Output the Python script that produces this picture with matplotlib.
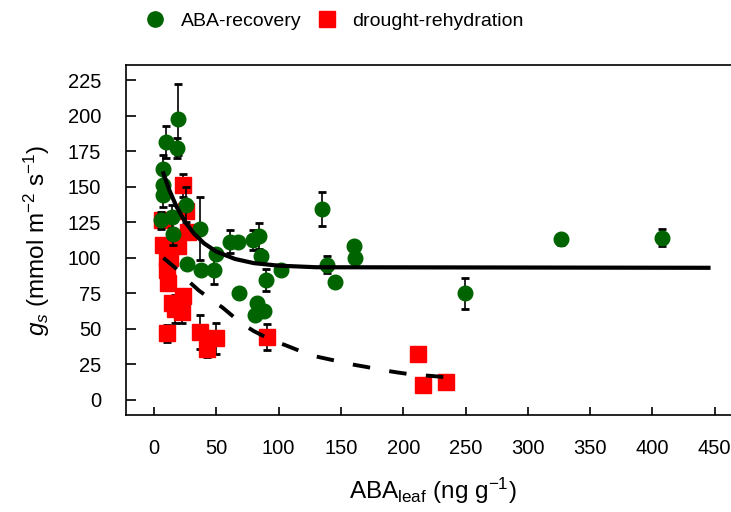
import matplotlib
matplotlib.use("Agg")
import matplotlib.pyplot as plt
from matplotlib.lines import Line2D

# ABA-recovery (green circles): ABA_leaf, gs, error
aba_rec_x = [19.5, 9.4, 18.5, 7.5, 7.5, 7.5, 26.0, 5.6, 14.5, 15.5, 36.5, 49.8,
             26.5, 37.5, 48.5, 68.5, 61.0, 67.7, 79.5, 84.0, 85.5, 89.5, 101.5,
             82.4, 88.0, 81.0, 135.0, 138.6, 145.3, 160.5, 161.3, 249.6, 327.0, 408.0]
aba_rec_gs = [197.5, 181.5, 177.5, 162.5, 151.5, 144.0, 137.5, 126.5, 129.0, 117.0,
              120.5, 103.0, 95.5, 91.5, 91.5, 75.5, 111.5, 111.5, 112.5, 115.5,
              101.5, 84.5, 91.5, 68.5, 62.5, 59.5, 134.5, 95.0, 83.0, 108.0, 100.0,
              75.0, 113.0, 114.0]
aba_rec_err = [25, 11, 7, 10, 8, 8, 12, 6, 8, 8, 22, 0, 0, 0, 10, 0, 8, 0, 7, 9,
               0, 8, 0, 0, 0, 0, 12, 6, 0, 0, 0, 11, 4, 6]

# drought-rehydration (red squares)
dr_x = [23.0, 26.0, 27.5, 6.2, 7.5, 10.0, 13.0, 19.0, 10.2, 11.5, 14.2, 17.0, 22.2,
        23.5, 10.2, 37.0, 42.3, 50.0, 91.0, 211.5, 216.0, 234.0]
dr_gs = [151.0, 133.0, 118.0, 126.5, 109.0, 100.0, 100.0, 108.0, 91.5, 82.0, 68.0,
         64.0, 62.0, 73.0, 47.0, 48.0, 36.0, 43.5, 44.5, 32.0, 10.5, 12.5]
dr_err = [8, 0, 0, 0, 0, 0, 0, 0, 0, 0, 0, 10, 8, 0, 6, 12, 6, 11, 9, 0, 0, 0]

# fitted curves, points
fit_rec_x = [7.5, 12, 18, 25, 32, 40, 50, 65, 80, 100, 130, 445]
fit_rec_y = [159.5, 148.2, 136.0, 125.2, 117.1, 110.3, 104.4, 99.2, 96.3, 94.5, 93.4, 93.0]
fit_dr_x = [7.5, 17, 26.5, 36, 47, 55, 70, 80, 94.5, 105, 118.5, 130.6, 143.7,
            155.7, 170.7, 181.4, 196.6, 208, 223, 234]
fit_dr_y = [100, 93, 84.5, 77, 70, 65, 54, 48.5, 42, 38.7, 34, 30.5, 28, 25.5,
            23.2, 21.3, 19.2, 17.8, 16.9, 16.0]

x_ticks = list(range(0, 451, 50))
y_ticks = list(range(0, 226, 25))

plt.rcParams["font.family"] = ["Liberation Sans", "DejaVu Sans"]
plt.rcParams["mathtext.fontset"] = "custom"
plt.rcParams["mathtext.rm"] = "Liberation Sans"
plt.rcParams["mathtext.it"] = "Liberation Sans:italic"

green = "#006400"
red = "#ff0000"

fig = plt.figure(figsize=(7.31, 5.12), dpi=100)
ax = fig.add_axes([0.1724, 0.1895, 0.8394, 0.6836])

ax.errorbar(dr_x, dr_gs, yerr=dr_err, fmt="none", ecolor="black", elinewidth=1.2,
            capsize=3, capthick=2, zorder=2)
ax.plot(dr_x, dr_gs, "s", color=red, ms=11, mec=red, zorder=3)
ax.errorbar(aba_rec_x, aba_rec_gs, yerr=aba_rec_err, fmt="none", ecolor="black",
            elinewidth=1.2, capsize=3, capthick=2, zorder=4)
ax.plot(aba_rec_x, aba_rec_gs, "o", color=green, ms=10.5, mec=green, zorder=5)

ax.plot(fit_rec_x, fit_rec_y, "-", color="black", lw=3, zorder=6)
ax.plot(fit_dr_x, fit_dr_y, color="black", lw=2.8, dashes=(4.5, 5), zorder=6)

ax.set_xlim(-22.5, 470)
ax.set_ylim(-10.55, 235.7)
ax.set_xticks(x_ticks)
ax.set_yticks(y_ticks)
ax.tick_params(axis="x", direction="in", length=6, width=1.2, pad=17, labelsize=14.5)
ax.tick_params(axis="y", direction="in", length=7, width=1.2, pad=18, labelsize=14.5)
for s in ax.spines.values():
    s.set_linewidth(1.2)

ax.set_xlabel(r"ABA$_{\mathrm{leaf}}$ (ng g$^{-1}$)", fontsize=17.5, labelpad=13)
ax.set_ylabel(r"$g_s$ (mmol m$^{-2}$ s$^{-1}$)", fontsize=17.5, labelpad=11)

handles = [
    Line2D([], [], ls="none", marker="o", color=green, ms=11),
    Line2D([], [], ls="none", marker="s", color=red, ms=11),
]
fig.legend(handles, ["ABA-recovery", "drought-rehydration"], ncol=2, frameon=False,
           loc="center left", bbox_to_anchor=(0.199, 0.959), fontsize=14,
           handlelength=1.0, handletextpad=0.8, columnspacing=0.85,
           borderpad=0, borderaxespad=0)

fig.savefig("out.png", dpi=100)
